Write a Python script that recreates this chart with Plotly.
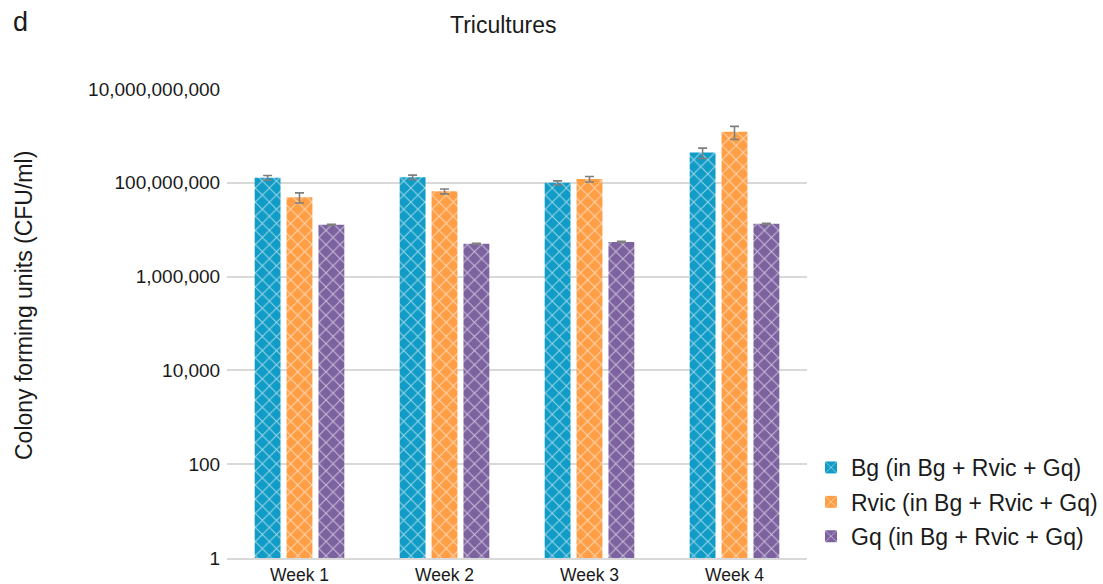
import plotly.graph_objects as go

weeks = ["Week 1", "Week 2", "Week 3", "Week 4"]

bg_cfu = [1.28e8, 1.32e8, 1.00e8, 4.4e8]
bg_err = [1.5e7, 1.4e7, 1.0e7, 1.1e8]

rvic_cfu = [4.9e7, 6.6e7, 1.2e8, 1.22e9]
rvic_err = [1.2e7, 8.0e6, 1.6e7, 3.8e8]

gq_cfu = [1.27e7, 5.0e6, 5.5e6, 1.34e7]
gq_err = [3.0e5, 1.5e5, 1.5e5, 3.0e5]

series_names = [
    "Bg (in Bg + Rvic + Gq)",
    "Rvic (in Bg + Rvic + Gq)",
    "Gq (in Bg + Rvic + Gq)",
]
series_colors = ["#109CC6", "#FF9E45", "#7D62A0"]

FONT = "Liberation Sans, Arial, sans-serif"
TEXT = "#1a1a1a"

# figure / plot-area geometry in pixels
W, H = 1103, 584
L, R, T, B = 227, 296, 89, 26
PW, PH = W - L - R, H - T - B


def px(x):
    return (x - L) / PW


def py(y):
    return (H - B - y) / PH


fig = go.Figure()
for i, (name, vals, errs, color) in enumerate(
    zip(series_names, [bg_cfu, rvic_cfu, gq_cfu], [bg_err, rvic_err, gq_err], series_colors)
):
    fig.add_trace(
        go.Bar(
            x=weeks,
            y=vals,
            name=name,
            legendgroup=f"g{i}",
            marker=dict(
                color=color,
                line=dict(width=0),
                pattern=dict(shape="x", fgcolor="white", fgopacity=0.6, size=10, solidity=0.18),
            ),
            error_y=dict(
                type="data",
                array=errs,
                visible=True,
                color="#7f7f7f",
                thickness=1.6,
                width=4.5,
            ),
        )
    )

fig.update_layout(
    width=W,
    height=H,
    margin=dict(l=L, r=R, t=T, b=B, autoexpand=False),
    paper_bgcolor="white",
    plot_bgcolor="white",
    font=dict(family=FONT, color=TEXT),
    barmode="group",
    bargap=0.34,
    bargroupgap=0.19,
    showlegend=True,
    legend=dict(
        x=px(811),
        xanchor="left",
        y=py(502),
        yanchor="middle",
        font=dict(size=23, family=FONT, color=TEXT),
        itemwidth=30,
        tracegroupgap=1.5,
        traceorder="grouped",
        bgcolor="rgba(0,0,0,0)",
    ),
    xaxis=dict(
        automargin=False,
        showgrid=False,
        showline=True,
        linecolor="#d9d9d9",
        linewidth=1.5,
        ticks="outside",
        ticklen=0.5,
        tickcolor="rgba(0,0,0,0)",
        tickfont=dict(size=17.5, family=FONT, color=TEXT),
    ),
    yaxis=dict(
        automargin=False,
        type="log",
        range=[0, 10],
        dtick=2,
        tickformat=",d",
        showgrid=True,
        gridcolor="#d9d9d9",
        gridwidth=1.5,
        zeroline=False,
        showline=False,
        ticks="outside",
        ticklen=2,
        tickcolor="rgba(0,0,0,0)",
        tickfont=dict(size=19, family=FONT, color=TEXT),
    ),
    annotations=[
        dict(
            text="Tricultures",
            x=px(503.7),
            y=py(25),
            xref="paper",
            yref="paper",
            xanchor="center",
            yanchor="middle",
            showarrow=False,
            font=dict(size=23, family=FONT, color=TEXT),
        ),
        dict(
            text="d",
            x=px(11),
            y=py(22),
            xref="paper",
            yref="paper",
            xanchor="left",
            yanchor="middle",
            showarrow=False,
            font=dict(size=27, family=FONT, color=TEXT),
        ),
        dict(
            text="Colony forming units (CFU/ml)",
            x=px(24),
            y=py(306),
            xref="paper",
            yref="paper",
            xanchor="center",
            yanchor="middle",
            textangle=-90,
            showarrow=False,
            font=dict(size=23, family=FONT, color=TEXT),
        ),
    ],
)

fig.write_html("out.html")
